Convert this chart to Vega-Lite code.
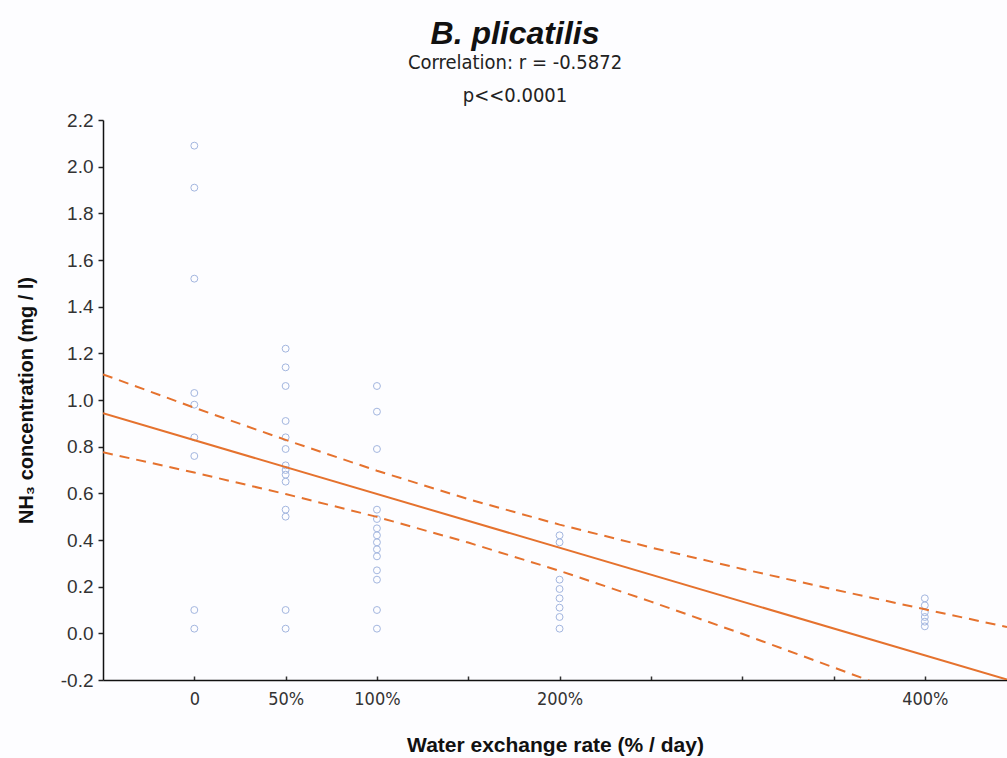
{
  "$schema": "https://vega.github.io/schema/vega-lite/v6.json",
  "autosize": "none",
  "width": 904,
  "height": 560,
  "padding": {"left": 103, "top": 120, "right": 0, "bottom": 78},
  "background": "#fdfdff",
  "config": {"view": {"stroke": null}},
  "title": {
    "text": "B. plicatilis",
    "subtitle": ["Correlation: r = -0.5872", "p<<0.0001"],
    "anchor": "middle",
    "dx": -40,
    "offset": 4,
    "font": "Liberation Sans",
    "fontSize": 32,
    "fontStyle": "italic",
    "fontWeight": "bold",
    "color": "#111111",
    "subtitleFont": "DejaVu Sans Condensed, Liberation Sans",
    "subtitleFontSize": 20,
    "subtitleLineHeight": 33,
    "subtitleColor": "#222222",
    "subtitlePadding": 2
  },
  "datasets": {
    "points": [
      {"rate": 0, "nh3": 2.09}, {"rate": 0, "nh3": 1.91}, {"rate": 0, "nh3": 1.52}, {"rate": 0, "nh3": 1.03}, {"rate": 0, "nh3": 0.98}, {"rate": 0, "nh3": 0.84}, {"rate": 0, "nh3": 0.76}, {"rate": 0, "nh3": 0.10}, {"rate": 0, "nh3": 0.02},
      {"rate": 50, "nh3": 1.22}, {"rate": 50, "nh3": 1.14}, {"rate": 50, "nh3": 1.06}, {"rate": 50, "nh3": 0.91}, {"rate": 50, "nh3": 0.84}, {"rate": 50, "nh3": 0.79}, {"rate": 50, "nh3": 0.72}, {"rate": 50, "nh3": 0.70}, {"rate": 50, "nh3": 0.68}, {"rate": 50, "nh3": 0.65}, {"rate": 50, "nh3": 0.53}, {"rate": 50, "nh3": 0.50}, {"rate": 50, "nh3": 0.10}, {"rate": 50, "nh3": 0.02},
      {"rate": 100, "nh3": 1.06}, {"rate": 100, "nh3": 0.95}, {"rate": 100, "nh3": 0.79}, {"rate": 100, "nh3": 0.53}, {"rate": 100, "nh3": 0.49}, {"rate": 100, "nh3": 0.45}, {"rate": 100, "nh3": 0.42}, {"rate": 100, "nh3": 0.39}, {"rate": 100, "nh3": 0.36}, {"rate": 100, "nh3": 0.33}, {"rate": 100, "nh3": 0.27}, {"rate": 100, "nh3": 0.23}, {"rate": 100, "nh3": 0.10}, {"rate": 100, "nh3": 0.02},
      {"rate": 200, "nh3": 0.42}, {"rate": 200, "nh3": 0.39}, {"rate": 200, "nh3": 0.23}, {"rate": 200, "nh3": 0.19}, {"rate": 200, "nh3": 0.15}, {"rate": 200, "nh3": 0.11}, {"rate": 200, "nh3": 0.07}, {"rate": 200, "nh3": 0.02},
      {"rate": 400, "nh3": 0.15}, {"rate": 400, "nh3": 0.12}, {"rate": 400, "nh3": 0.09}, {"rate": 400, "nh3": 0.07}, {"rate": 400, "nh3": 0.05}, {"rate": 400, "nh3": 0.03}
    ],
    "fit": [
      {"band": "fit", "rate": -50, "nh3": 0.943}, {"band": "fit", "rate": 445, "nh3": -0.198},
      {"band": "upper", "rate": -50, "nh3": 1.110}, {"band": "upper", "rate": 0, "nh3": 0.967}, {"band": "upper", "rate": 50, "nh3": 0.829}, {"band": "upper", "rate": 100, "nh3": 0.697}, {"band": "upper", "rate": 150, "nh3": 0.575}, {"band": "upper", "rate": 200, "nh3": 0.466}, {"band": "upper", "rate": 250, "nh3": 0.368}, {"band": "upper", "rate": 300, "nh3": 0.276}, {"band": "upper", "rate": 350, "nh3": 0.188}, {"band": "upper", "rate": 400, "nh3": 0.103}, {"band": "upper", "rate": 445, "nh3": 0.027},
      {"band": "lower", "rate": -50, "nh3": 0.776}, {"band": "lower", "rate": 0, "nh3": 0.689}, {"band": "lower", "rate": 50, "nh3": 0.597}, {"band": "lower", "rate": 100, "nh3": 0.499}, {"band": "lower", "rate": 150, "nh3": 0.389}, {"band": "lower", "rate": 200, "nh3": 0.268}, {"band": "lower", "rate": 250, "nh3": 0.136}, {"band": "lower", "rate": 300, "nh3": -0.002}, {"band": "lower", "rate": 350, "nh3": -0.146}, {"band": "lower", "rate": 370, "nh3": -0.204}
    ]
  },
  "encoding": {
    "x": {
      "field": "rate", "type": "quantitative",
      "scale": {"domain": [-50, 445], "nice": false, "zero": false},
      "axis": {
        "title": "Water exchange rate (% / day)",
        "values": [0, 50, 100, 150, 200, 250, 300, 350, 400],
        "labelExpr": "datum.value == 0 ? '0' : ((datum.value == 50 || datum.value == 100 || datum.value == 200 || datum.value == 400) ? datum.value + '%' : '')",
        "grid": false,
        "domainColor": "#111111", "domainWidth": 1.5,
        "tickColor": "#333333", "tickSize": -4, "tickWidth": 1.5,
        "labelFont": "DejaVu Sans Condensed, Liberation Sans", "labelFontSize": 18, "labelColor": "#333333", "labelPadding": 14,
        "titleFont": "Liberation Sans", "titleFontSize": 21, "titleFontWeight": "bold", "titleColor": "#111111", "titlePadding": 26
      }
    },
    "y": {
      "field": "nh3", "type": "quantitative",
      "scale": {"domain": [-0.2, 2.2], "nice": false, "zero": false},
      "axis": {
        "title": "NH₃ concentration (mg / l)",
        "values": [-0.2, 0, 0.2, 0.4, 0.6, 0.8, 1.0, 1.2, 1.4, 1.6, 1.8, 2.0, 2.2],
        "labelExpr": "replace(format(datum.value, '.1f'), '\u2212', '-')",
        "grid": false,
        "domainColor": "#111111", "domainWidth": 1.5,
        "tickColor": "#222222", "tickSize": 5, "tickWidth": 1.5,
        "labelFont": "Liberation Sans", "labelFontSize": 19, "labelColor": "#333333", "labelPadding": 5,
        "titleFont": "Liberation Sans", "titleFontSize": 20, "titleFontWeight": "bold", "titleColor": "#111111", "titlePadding": 24
      }
    }
  },
  "layer": [
    {
      "data": {"name": "points"},
      "mark": {"type": "point", "shape": "circle", "filled": false, "size": 48, "strokeWidth": 1, "color": "#a3b6df", "opacity": 1}
    },
    {
      "data": {"name": "fit"},
      "transform": [{"filter": "datum.band == 'fit'"}],
      "mark": {"type": "line", "color": "#e5722e", "strokeWidth": 2, "clip": true}
    },
    {
      "data": {"name": "fit"},
      "transform": [{"filter": "datum.band != 'fit'"}],
      "mark": {"type": "line", "color": "#e5722e", "strokeWidth": 2, "strokeDash": [10, 7], "clip": true},
      "encoding": {"detail": {"field": "band"}}
    }
  ]
}
